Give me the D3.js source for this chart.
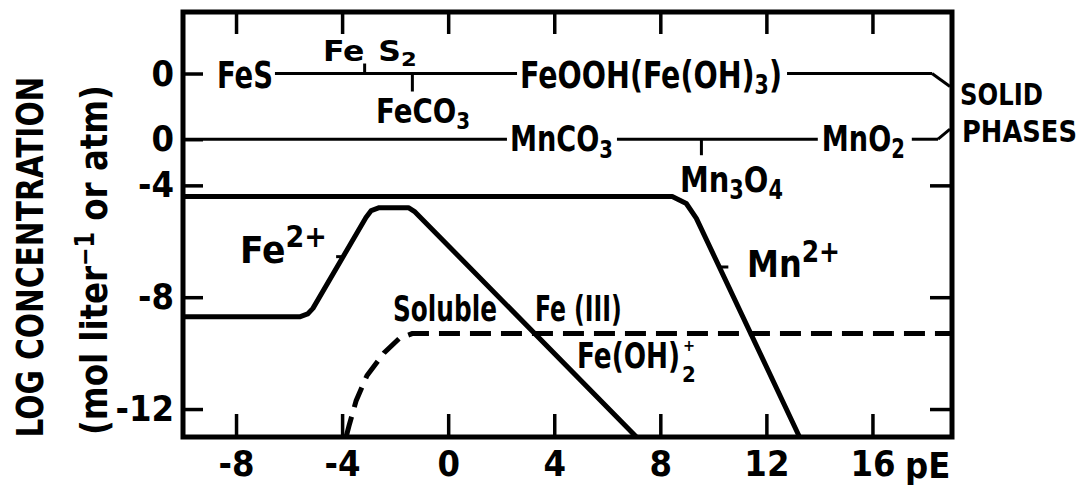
<!DOCTYPE html>
<html>
<head>
<meta charset="utf-8">
<script src="https://cdn.jsdelivr.net/npm/d3@7/dist/d3.min.js"></script>
<style>
  html, body { margin: 0; padding: 0; background: #fff; }
  svg text { font-family: "Liberation Sans Narrow", "DejaVu Sans Condensed", "DejaVu Sans", sans-serif; font-weight: bold; fill: #000; }
</style>
</head>
<body>
<svg id="chart" width="1086" height="494"></svg>
<script>
// pE axis and log-concentration axis
const xTicks = [-8, -4, 0, 4, 8, 12, 16];
const xTickLabels = ["-8", "-4", "0", "4", "8", "12", "16"];
const yTicks = [0, -2.35, -4, -8, -12];
const yTickLabels = ["0", "0", "-4", "-8", "-12"];
const yTicksRight = [-4, -8, -12];

// levels at which the two solid-phase rows are drawn (both read as log activity 0)
const feSolidLevel = 0;
const mnSolidLevel = -2.35;

// solid-phase boundaries along the iron and manganese rows (pE)
const feSolidBoundaries = [-3.15, -1.35];   // FeS | FeS2 , FeS2 | FeCO3
const mnSolidBoundaries = [9.55];           // MnCO3 | Mn3O4

// dissolved Fe2+ (pE, log C)
const fe2pE   = [-10, -5.6, -5.3, -5.1, -3.1, -2.9, -2.6, -1.5, -1.25, 7.1];
const fe2LogC = [-8.7, -8.7, -8.6, -8.4, -5.15, -4.9, -4.8, -4.8, -4.95, -13];

// dissolved Mn2+ (pE, log C)
const mn2pE   = [-10, 8.45, 8.98, 9.36, 13.25];
const mn2LogC = [-4.4, -4.4, -4.65, -5.18, -13];

// soluble Fe(III), mainly Fe(OH)2+ (pE, log C)
const fe3pE   = [-3.85, -3.74, -3.47, -3.06, -2.42, -1.85, -1.36, 19];
const fe3LogC = [-13, -12.6, -11.7, -10.8, -9.99, -9.48, -9.3, -9.3];

const svg = d3.select("#chart");
svg.append("rect").attr("width", 1086).attr("height", 494).attr("fill", "#fff");

const x = d3.scaleLinear().domain([-10, 19]).range([183, 952]);
const y = d3.scaleLinear().domain([-13, 2.2]).range([437, 12]);

const line = d3.line().x(d => x(d[0])).y(d => y(d[1]));

// axes (ticks point inward)
const fs = 36;
const axBottom = svg.append("g").attr("transform", `translate(0,${y(-13)})`)
  .call(d3.axisBottom(x).tickValues(xTicks).tickSizeInner(-23).tickSizeOuter(0)
    .tickPadding(13).tickFormat((d, i) => xTickLabels[i]));
const axTop = svg.append("g").attr("transform", `translate(0,${y(2.2)})`)
  .call(d3.axisTop(x).tickValues(xTicks).tickSizeInner(-22).tickSizeOuter(0).tickFormat(""));
const axLeft = svg.append("g").attr("transform", `translate(${x(-10)},0)`)
  .call(d3.axisLeft(y).tickValues(yTicks).tickSizeInner(-20).tickSizeOuter(0)
    .tickPadding(9).tickFormat((d, i) => yTickLabels[i]));
const axRight = svg.append("g").attr("transform", `translate(${x(19)},0)`)
  .call(d3.axisRight(y).tickValues(yTicksRight).tickSizeInner(-22).tickSizeOuter(0).tickFormat(""));

[axBottom, axTop, axLeft, axRight].forEach(g => {
  g.select(".domain").remove();
  g.selectAll(".tick line").attr("stroke", "#000").attr("stroke-width", 3.5);
  g.selectAll(".tick text").attr("font-size", fs).attr("fill", "#000");
  g.attr("font-family", null).attr("font-size", null);
});

// pE axis title
svg.append("text").attr("x", 905).attr("y", 478).attr("font-size", fs).text("pE");

// frame
svg.append("rect")
  .attr("x", x(-10)).attr("y", y(2.2))
  .attr("width", x(19) - x(-10)).attr("height", y(-13) - y(2.2))
  .attr("fill", "none").attr("stroke", "#000").attr("stroke-width", 5);

// squeeze a text horizontally (along its own direction) to a given run length
function fit(t, px, py, width, rot, anchorMiddle) {
  const natural = t.node().getComputedTextLength();
  const sx = natural > 0 ? width / natural : 1;
  t.attr("x", anchorMiddle ? -natural / 2 : 0).attr("y", 0)
   .attr("transform", `translate(${px},${py})${rot ? ` rotate(${rot})` : ""} scale(${sx},1)`);
  return t;
}

// y axis title (two lines)
const t1 = svg.append("text").attr("font-size", 38).text("LOG CONCENTRATION");
fit(t1, 43, 257, 361, -90, true);
const t2 = svg.append("text").attr("font-size", 38);
t2.append("tspan").text("(mol liter");
t2.append("tspan").attr("font-size", 26).attr("baseline-shift", "13").text("\u22121");
t2.append("tspan").text(" or atm)");
fit(t2, 107, 260, 350, -90, true);

// helper: text made of normal / sub / sup parts, fitted to a width
function label(px, py, parts, size, width) {
  const t = svg.append("text").attr("font-size", size);
  parts.forEach(p => {
    const s = t.append("tspan").text(p.t);
    if (p.sub) s.attr("font-size", size * 0.72).attr("baseline-shift", -size * 0.18);
    if (p.sup) s.attr("font-size", size * 0.78).attr("baseline-shift", size * 0.42);
    if (p.dx) s.attr("dx", p.dx);
  });
  if (width) fit(t, px, py, width, 0, false);
  else t.attr("x", px).attr("y", py);
  return t;
}

// ---- iron solid-phase row ----
const feY = y(feSolidLevel);
label(x(-8.72), feY + 14, [{t: "FeS"}], 37, 56);
label(x(2.71), feY + 14, [{t: "FeOOH(Fe(OH)"}, {t: "3", sub: true}, {t: ")"}], 37, 262);
label(x(-4.72), feY - 13, [{t: "Fe"}, {t: "S", dx: 11}, {t: "2", sub: true}], 28, 80);
label(x(-2.72), feY + 49, [{t: "FeCO"}, {t: "3", sub: true}], 33, 94);

const rowStyle = sel => sel.attr("fill", "none").attr("stroke", "#000").attr("stroke-width", 3);
const seg = (x0, x1, yy) => svg.append("line").attr("x1", x0).attr("x2", x1).attr("y1", yy).attr("y2", yy).call(rowStyle);

seg(x(-8.72) + 56 + 2, x(2.71) - 3, feY);
seg(x(2.71) + 262 + 5, x(19) - 20, feY);
// boundary marks: FeS2 above, FeCO3 below
svg.append("line").attr("x1", x(feSolidBoundaries[0])).attr("x2", x(feSolidBoundaries[0]))
  .attr("y1", feY - 10).attr("y2", feY).call(rowStyle);
svg.append("line").attr("x1", x(feSolidBoundaries[1])).attr("x2", x(feSolidBoundaries[1]))
  .attr("y1", feY).attr("y2", feY + 18).call(rowStyle);

// ---- manganese solid-phase row ----
const mnY = y(mnSolidLevel);
label(x(2.33), mnY + 12, [{t: "MnCO"}, {t: "3", sub: true}], 35, 103);
label(x(14.09), mnY + 12, [{t: "MnO"}, {t: "2", sub: true}], 36, 83);
label(x(8.74), mnY + 53, [{t: "Mn"}, {t: "3", sub: true}, {t: "O"}, {t: "4", sub: true}], 36, 103);

seg(x(-10), x(2.33) - 3, mnY);
seg(x(2.33) + 103 + 4, x(14.09) - 4, mnY);
seg(x(14.09) + 83 + 7, x(19) - 14, mnY);
svg.append("line").attr("x1", x(mnSolidBoundaries[0])).attr("x2", x(mnSolidBoundaries[0]))
  .attr("y1", mnY).attr("y2", mnY + 16).call(rowStyle);

// bracket joining both rows to the "SOLID PHASES" note
svg.append("path").attr("d", `M${x(19) - 20},${feY} L${x(19) - 2},${feY + 13}`).call(rowStyle);
svg.append("path").attr("d", `M${x(19) - 14},${mnY} L${x(19) - 2},${mnY - 10}`).call(rowStyle);
label(x(19) + 8, 105, [{t: "SOLID"}], 30, 83);
label(x(19) + 10, 142, [{t: "PHASES"}], 30, 115);

// ---- dissolved species ----
const curve = (xs, ys) => xs.map((v, i) => [v, ys[i]]);

svg.append("path").datum(curve(fe3pE, fe3LogC)).attr("d", line)
  .attr("fill", "none").attr("stroke", "#000").attr("stroke-width", 5)
  .attr("stroke-dasharray", "21 10");

svg.append("path").datum(curve(fe2pE, fe2LogC)).attr("d", line)
  .attr("fill", "none").attr("stroke", "#000").attr("stroke-width", 5)
  .attr("stroke-linejoin", "round");

svg.append("path").datum(curve(mn2pE, mn2LogC)).attr("d", line)
  .attr("fill", "none").attr("stroke", "#000").attr("stroke-width", 5)
  .attr("stroke-linejoin", "round");

// leader ticks for the ion labels, placed on their curves
const fe2Rise = d3.scaleLinear().domain([fe2LogC[3], fe2LogC[4]]).range([fe2pE[3], fe2pE[4]]);
const mn2Fall = d3.scaleLinear().domain([mn2LogC[3], mn2LogC[4]]).range([mn2pE[3], mn2pE[4]]);
svg.append("line").attr("x1", x(fe2Rise(-6.55))).attr("x2", x(fe2Rise(-6.55)) - 7)
  .attr("y1", y(-6.55)).attr("y2", y(-6.55)).attr("stroke", "#000").attr("stroke-width", 3);
svg.append("line").attr("x1", x(mn2Fall(-6.92))).attr("x2", x(mn2Fall(-6.92)) + 9)
  .attr("y1", y(-6.92)).attr("y2", y(-6.92)).attr("stroke", "#000").attr("stroke-width", 3);

label(x(-7.85), y(-6.78), [{t: "Fe"}, {t: "2+", sup: true}], 38, 87);
label(x(11.27), y(-7.28), [{t: "Mn"}, {t: "2+", sup: true}], 38, 93);
label(x(-2.08), y(-8.85), [{t: "Soluble"}], 35, 104);
label(x(3.27), y(-8.85), [{t: "Fe (III)"}], 35, 87);
label(x(4.86), y(-10.53), [{t: "Fe(OH)"}], 36, 103);
label(x(4.86) + 106, y(-10.53) - 17, [{t: "+"}], 16);
label(x(4.86) + 105, y(-10.53) + 14, [{t: "2"}], 22);
</script>
</body>
</html>
